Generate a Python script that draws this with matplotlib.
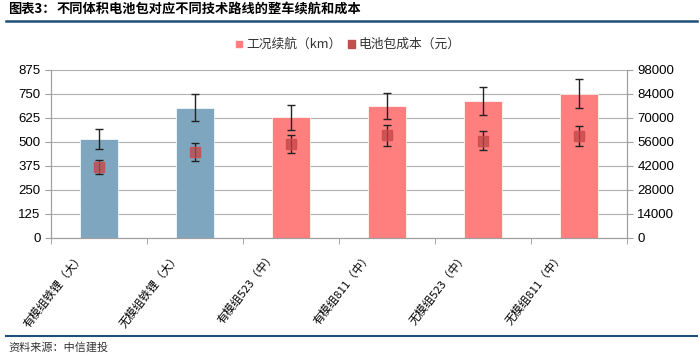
import matplotlib
matplotlib.use('Agg')
import matplotlib.pyplot as plt
import matplotlib.transforms as mtransforms
import numpy as np

plt.rcParams['font.family'] = ['Noto Sans CJK SC', 'DejaVu Sans']

categories = ['有模组铁锂（大）', '无模组铁锂（大）', '有模组523（中）',
              '有模组811（中）', '无模组523（中）', '无模组811（中）']
range_km = [515, 678, 630, 689, 713, 751]
range_err = [51, 70, 65, 68, 72, 76]
cost_yuan = [41400, 50200, 55000, 59900, 56800, 59500]
cost_err = [4300, 5000, 5300, 6000, 5500, 6000]
bar_colors = ['#7FA6BF', '#7FA6BF', '#FF7F7F', '#FF7F7F', '#FF7F7F', '#FF7F7F']

fig = plt.figure(figsize=(7, 3.56), dpi=100)
ax1 = fig.add_axes([51 / 700, 1 - 238 / 356, 576 / 700, 168 / 356])
ax2 = ax1.twinx()

x = np.arange(len(categories))
ax1.bar(x, range_km, width=0.4, color=bar_colors, zorder=2,
        edgecolor='white', linewidth=0.5)
ax1.errorbar(x, range_km, yerr=range_err, fmt='none', ecolor='#222222',
             elinewidth=1, capsize=3, capthick=1, zorder=3)

ax2.errorbar(x, cost_yuan, yerr=cost_err, fmt='none', ecolor='#222222',
             elinewidth=1, capsize=3, capthick=1, zorder=3)
ax2.plot(x, cost_yuan, 's', markersize=7, markerfacecolor=(0.75, 0.28, 0.28, 0.75),
         markeredgecolor=(0.8, 0.3, 0.3, 0.9), markeredgewidth=1, linestyle='none', zorder=4)

ax1.set_xlim(-0.5, len(categories) - 0.5)
ax1.set_ylim(0, 875)
ax1.set_yticks(np.arange(0, 876, 125))
ax2.set_ylim(0, 98000)
ax2.set_yticks(np.arange(0, 98001, 14000))

ax1.yaxis.grid(True, color='#b0b0b0', linewidth=0.8, zorder=0)
ax1.set_axisbelow(True)

ax1.set_xticks(x)
ax1.set_xticklabels(categories, rotation=52, ha='right', rotation_mode='anchor',
                    fontsize=8.2)
ax1.tick_params(axis='x', length=0, pad=9)
shift = mtransforms.ScaledTranslation(-22 / 100, 0, fig.dpi_scale_trans)
for lab in ax1.get_xticklabels():
    lab.set_transform(lab.get_transform() + shift)
ax1.set_xticks(np.arange(-0.5, len(categories) + 0.5, 1), minor=True)
ax1.tick_params(axis='x', which='minor', length=4, color='#999999')

for ax in (ax1, ax2):
    ax.spines['top'].set_visible(False)
    for s in ('left', 'right', 'bottom'):
        ax.spines[s].set_color('#a0a0a0')
    ax.tick_params(axis='y', length=4, color='#a0a0a0', labelsize=9.5)
    for lab in ax.get_yticklabels():
        lab.set_family(['Liberation Sans', 'DejaVu Sans'])

# legend
fig.patches.append(plt.Rectangle((236 / 700, 1 - 47 / 356), 6 / 700, 6 / 356,
                                 transform=fig.transFigure, color='#FF7F7F'))
fig.text(246 / 700, 1 - 44 / 356, '工况续航（km）', fontsize=9.2, va='center', color='#333333')
fig.patches.append(plt.Rectangle((348 / 700, 1 - 48 / 356), 7 / 700, 8 / 356,
                                 transform=fig.transFigure, color='#C0504D'))
fig.text(358 / 700, 1 - 44 / 356, '电池包成本（元）', fontsize=9.2, va='center', color='#333333')

# title and footer
fig.text(8 / 700, 1 - 9 / 356, '图表3：', fontsize=9.5, fontweight='bold', va='center')
fig.text(57 / 700, 1 - 9 / 356, '不同体积电池包对应不同技术路线的整车续航和成本',
         fontsize=9.5, fontweight='bold', va='center')
fig.add_artist(plt.Line2D([6 / 700, 697 / 700], [1 - 21 / 356, 1 - 21 / 356],
                          color='#1F4E79', linewidth=1.8))
fig.add_artist(plt.Line2D([6 / 700, 697 / 700], [1 - 336 / 356, 1 - 336 / 356],
                          color='#1F4E79', linewidth=1.5))
fig.text(8 / 700, 1 - 347 / 356, '资料来源：中信建投', fontsize=8, style='italic',
         va='center', color='#333333')

plt.savefig('out.png', dpi=100)
